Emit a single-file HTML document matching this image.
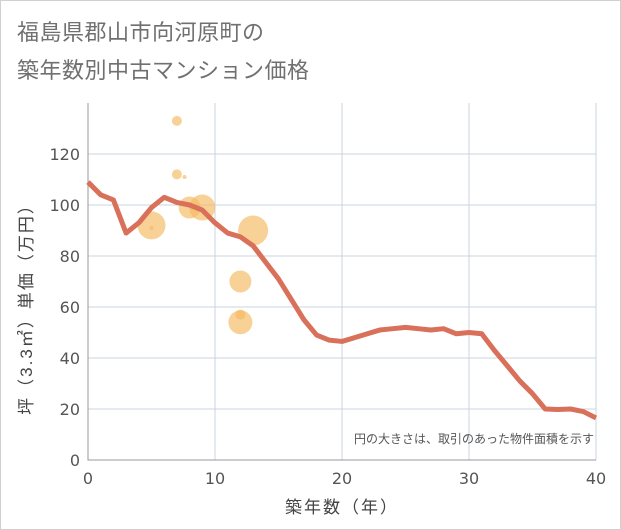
<!DOCTYPE html>
<html><head><meta charset="utf-8"><style>
body{margin:0;background:#fff;}
#wrap{position:relative;width:619px;height:528px;border:1px solid #d0d0d0;background:#fff;font-family:"Liberation Sans","Noto Sans CJK JP",sans-serif;}
.title{position:absolute;left:16px;font-size:22px;color:#707070;letter-spacing:0.5px}
</style></head><body>
<div id="wrap">
<div class="title" style="top:14px">福島県郡山市向河原町の</div>
<div class="title" style="top:52px">築年数別中古マンション価格</div>
<svg id="chart" width="621" height="530" style="position:absolute;left:-1px;top:-1px"></svg>
</div>
<script>
const xTicks=[0,10,20,30,40];
const yTicks=[0,20,40,60,80,100,120];
const lineYears=[0,1,2,3,4,5,6,7,8,9,10,11,12,13,14,15,16,17,18,19,20,21,22,23,24,25,26,27,28,29,30,31,32,33,34,35,36,37,38,39,40];
const linePrices=[109,104,102,89,93,99,103,101,100,98,93,89,87.5,84,77.5,71,63,55,49,47,46.5,48,49.5,51,51.5,52,51.5,51,51.5,49.5,50,49.5,43,37,31,26,20,19.8,20,19,16.5];
const bubbleYears=[7,7,7.6,5,5,8,9,13,12,12,12];
const bubblePrices=[133,112,111,92,91,99,99,90,70,54,57];
const bubbleSizes=[5,5,2,14,2,11,13,15,11,12,5];
const NS="http://www.w3.org/2000/svg";
const svg=document.getElementById('chart');
const L=88,R=596,T=103,B=460;
const xs=v=>L+(v-0)/40*(R-L);
const ys=v=>B-v/120*(B-154);
function mk(t,a){const e=document.createElementNS(NS,t);for(const k in a)e.setAttribute(k,a[k]);svg.appendChild(e);return e;}
let bg=mk('rect',{x:L,y:T,width:R-L,height:B-T,fill:'#fff'});


yTicks.forEach(v=>{
 let g=mk('line',{x1:L,x2:R,y1:ys(v),y2:ys(v),stroke:'#c8d4e0','stroke-width':1});
 
 
 let t=mk('text',{x:L-8,y:ys(v)+6,'text-anchor':'end','font-size':16,fill:'#555','font-family':'DejaVu Sans, sans-serif'});
 t.textContent=v;
 
 
});
xTicks.forEach(v=>{
 let g=mk('line',{x1:xs(v),x2:xs(v),y1:T,y2:B,stroke:'#c8d4e0','stroke-width':1});
 
 
 let t=mk('text',{x:xs(v),y:B+24,'text-anchor':'middle','font-size':16,fill:'#555','font-family':'DejaVu Sans, sans-serif'});
 t.textContent=v;
 
 
});
let ax=mk('path',{d:`M${L},${T}V${B}H${R}`,fill:'none',stroke:'#999','stroke-width':1});


bubbleYears.forEach((x,i)=>{
 let c=mk('circle',{cx:xs(x),cy:ys(bubblePrices[i]),r:bubbleSizes[i],fill:'#f4b860','fill-opacity':0.65});
 
 
});
let p=mk('polyline',{points:lineYears.map((x,i)=>xs(x)+','+ys(linePrices[i])).join(' '),fill:'none',stroke:'#d9705a','stroke-width':5,'stroke-linejoin':'round'});


let n=mk('text',{x:594,y:443,'text-anchor':'end','font-size':12,fill:'#555','font-family':'Liberation Sans, Noto Sans CJK JP, sans-serif'});
n.textContent='円の大きさは、取引のあった物件面積を示す';


let xt=mk('text',{x:342,y:513,'text-anchor':'middle','font-size':17,fill:'#444','letter-spacing':2,'font-family':'Liberation Sans, Noto Sans CJK JP, sans-serif'});
xt.textContent='築年数（年）';


let yt=mk('text',{x:0,y:0,'text-anchor':'middle','font-size':17,fill:'#444','letter-spacing':2,transform:'translate(32,305) rotate(-90)','font-family':'Liberation Sans, Noto Sans CJK JP, sans-serif'});
yt.textContent='坪（3.3㎡）単価（万円）';


</script>
</body></html>
